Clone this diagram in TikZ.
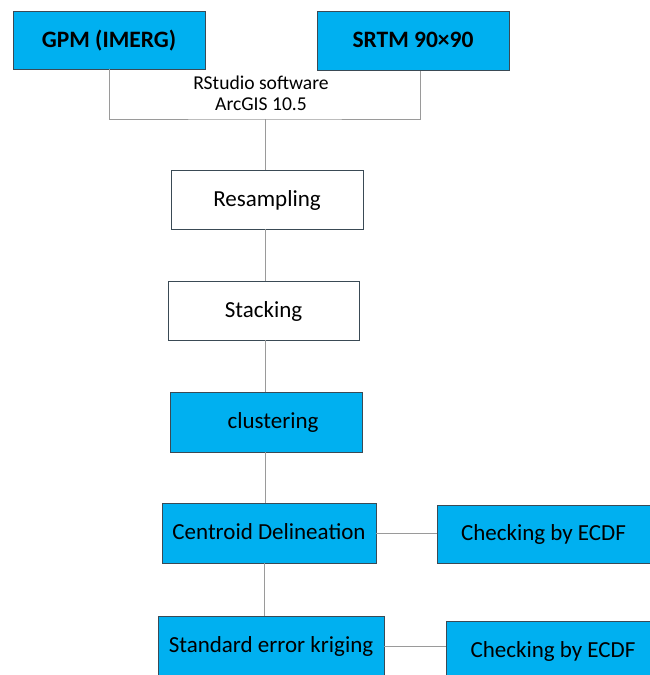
\documentclass[tikz,border=0pt]{standalone}
\usepackage{fontspec}
\setmainfont{Carlito}
\definecolor{skyfill}{HTML}{00B0F0}
\definecolor{boxline}{HTML}{3A4A55}
\definecolor{linkgray}{HTML}{9A9A9A}

\begin{document}
\begin{tikzpicture}[
  x=1pt, y=-1pt,
  every node/.style={inner sep=0pt,font=\fontsize{23}{27}\selectfont},
  stepbox/.style={draw=boxline,line width=0.9pt,fill=white,minimum height=59pt,text depth=2pt},
  bluebox/.style={stepbox,fill=skyfill},
  link/.style={draw=linkgray,line width=0.9pt}
]
  \useasboundingbox (0,0) rectangle (650,675);
  \clip (0,0) rectangle (650,675);

  % inputs
  \node[bluebox,minimum width=192pt,minimum height=58pt,font=\fontsize{23.5}{27}\selectfont\bfseries] (gpm) at (109,40) {GPM (IMERG)};
  \node[bluebox,minimum width=192pt,font=\fontsize{23.5}{27}\selectfont\bfseries] (srtm) at (413,41) {SRTM 90×90};
  \node[align=center,font=\fontsize{19.6}{21}\selectfont] (soft) at (261,93) {RStudio software\\ArcGIS 10.5};
  \coordinate (mid) at (265,119);

  % main chain
  \node[stepbox,minimum width=192pt] (resamp) at (267,199.5) {Resampling};
  \node[stepbox,minimum width=191pt] (stack) at (263.5,310.5) {Stacking};
  \node[bluebox,minimum width=192pt,minimum height=60pt] (clust) at (266,422) {\hspace*{14pt}clustering};
  \node[bluebox,minimum width=214pt,minimum height=60pt] (centroid) at (269,533) {Centroid Delineation};
  \node[bluebox,minimum width=226pt,minimum height=60pt] (sek) at (271,646) {Standard error kriging};

  % checks
  \node[bluebox,minimum width=213pt,minimum height=58pt] (check1) at (543.5,534) {Checking by ECDF};
  \node[bluebox,minimum width=214pt,minimum height=60pt] (check2) at (553,651) {Checking by ECDF};

  % connectors
  \draw[link] (gpm.south) |- (mid) -| ([xshift=7pt]srtm.south);
  \draw[link] (mid) -- (mid |- resamp.north);
  \draw[link] (resamp.south -| mid) -- (stack.north -| mid);
  \draw[link] (stack.south -| mid) -- (clust.north -| mid);
  \draw[link] (clust.south -| mid) -- (centroid.north -| mid);
  \draw[link] ([xshift=-1pt]centroid.south -| mid) -- ([xshift=-1pt]sek.north -| mid);
  \draw[link] (centroid.east) -- (centroid.east -| check1.west);
  \draw[link] (sek.east) -- (sek.east -| check2.west);
\end{tikzpicture}
\end{document}
